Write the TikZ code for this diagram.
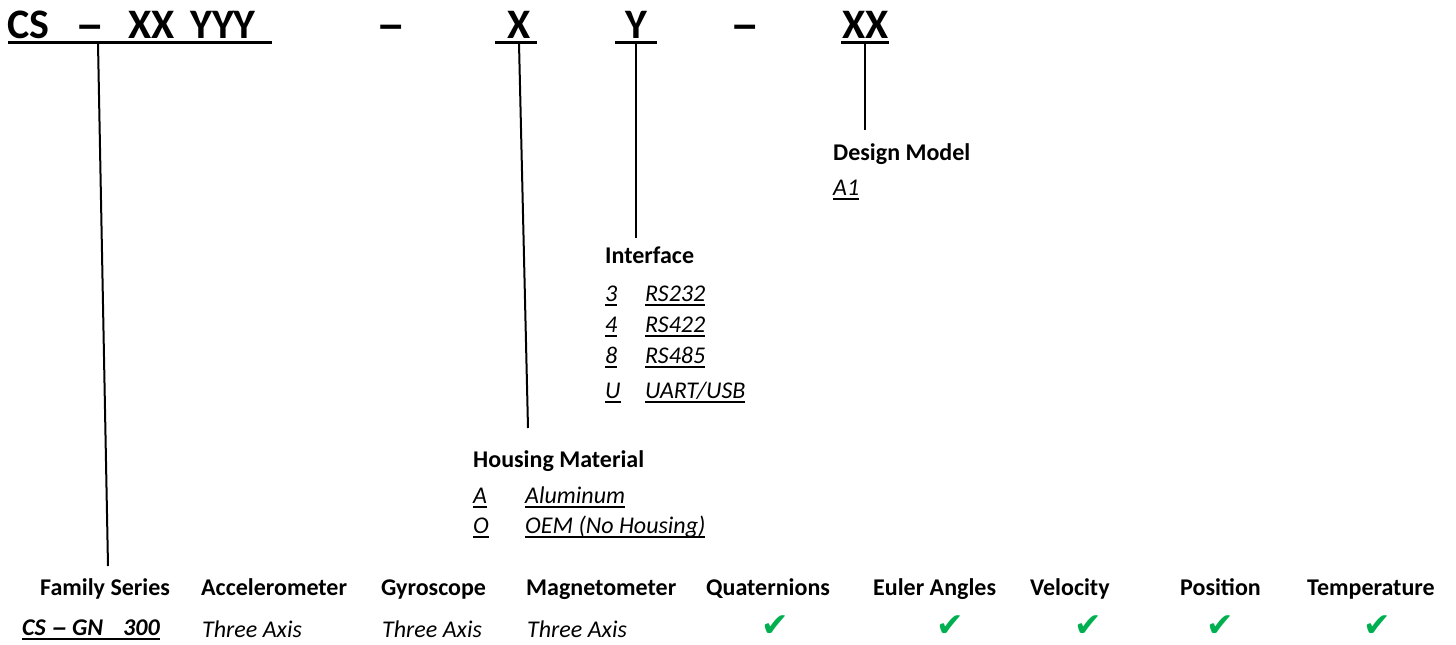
\documentclass[tikz,border=0pt]{standalone}
\usepackage{fontspec}
\setmainfont{Carlito}
\newfontfamily\djv{DejaVu Sans}
\newfontfamily\lib{Liberation Sans}
\definecolor{chkgreen}{RGB}{0,176,80}
\newcommand{\ulx}[1]{\setbox0\hbox{#1}\rlap{\rule[-5pt]{\wd0}{1.6pt}}\box0}
\newcommand{\wdash}{{\lib –}}
\tikzset{
  hdr/.style={anchor=base west,inner sep=0pt,font=\fontsize{42}{50}\selectfont\bfseries},
  lbl/.style={anchor=base west,inner sep=0pt,font=\fontsize{24}{28}\selectfont\bfseries},
  itm/.style={anchor=base west,inner sep=0pt,font=\fontsize{24}{28}\selectfont\itshape},
  chk/.style={anchor=center,inner sep=2pt,text=chkgreen,font=\djv\fontsize{33}{38}\selectfont},
  hline/.style={line width=3pt},
  conn/.style={line width=2pt}
}
\begin{document}
\begin{tikzpicture}[x=1pt,y=-1pt]
\useasboundingbox (0,0) rectangle (1456,645);
% header
\node[hdr] (cs) at (7,38) {CS};
\node[hdr] (d1) at (78,38) {\wdash};
\node[hdr] (xx) at (128,38) {XX};
\node[hdr] (yyy) at (190,38) {YYY};
\node[hdr] (d2) at (379,38) {\wdash};
\node[hdr] (hx) at (507,38) {X};
\node[hdr] (hy) at (625,38) {Y};
\node[hdr] (d3) at (733,38) {\wdash};
\node[hdr] (xx2) at (842,38) {XX};
\coordinate (u1a) at (8,42);  \coordinate (u1b) at (272,42);
\coordinate (u2a) at (495,42); \coordinate (u2b) at (537,42);
\coordinate (u3a) at (615,42); \coordinate (u3b) at (657,42);
\coordinate (u4a) at (841,42); \coordinate (u4b) at (889,42);
\draw[hline] (u1a) -- (u1b);
\draw[hline] (u2a) -- (u2b);
\draw[hline] (u3a) -- (u3b);
\draw[hline] (u4a) -- (u4b);
% connector ends
\coordinate (t1) at (98,43);  \coordinate (b1) at (108,566);
\coordinate (t2) at (519,43); \coordinate (b2) at (528,428);
\coordinate (t3) at (636,43); \coordinate (b3) at (636,238);
\coordinate (t4) at (865,43); \coordinate (b4) at (865,130);
\draw[conn] (t1) -- (b1);
\draw[conn] (t2) -- (b2);
\draw[conn] (t3) -- (b3);
\draw[conn] (t4) -- (b4);
% design model
\node[lbl] (dm) at (833,160) {Design Model};
\node[itm] (a1) at (833,195) {\ulx{A1}};
% interface
\node[lbl] (ifc) at (605,263) {Interface};
\node[itm] (i3) at (605,301) {\ulx{3}};
\node[itm] (v3) at (645,301) {\ulx{RS232}};
\node[itm] (i4) at (605,332) {\ulx{4}};
\node[itm] (v4) at (645,332) {\ulx{RS422}};
\node[itm] (i8) at (605,363) {\ulx{8}};
\node[itm] (v8) at (645,363) {\ulx{RS485}};
\node[itm] (iu) at (605,398) {\ulx{U}};
\node[itm] (vu) at (645,398) {\ulx{UART/USB}};
% housing
\node[lbl] (hm) at (473,467) {Housing Material};
\node[itm] (ha) at (473,503) {\ulx{A}};
\node[itm] (va) at (525,503) {\ulx{Aluminum}};
\node[itm] (ho) at (473,533) {\ulx{O}};
\node[itm] (vo) at (525,533) {\ulx{OEM (No Housing)}};
% bottom table
\node[lbl] (c1) at (40,595) {Family Series};
\node[lbl] (c2) at (201,595) {Accelerometer};
\node[lbl] (c3) at (381,595) {Gyroscope};
\node[lbl] (c4) at (526,595) {Magnetometer};
\node[lbl] (c5) at (706,595) {Quaternions};
\node[lbl] (c6) at (873,595) {Euler Angles};
\node[lbl] (c7) at (1030,595) {Velocity};
\node[lbl] (c8) at (1180,595) {Position};
\node[lbl] (c9) at (1307,595) {Temperature};
\node[itm,font=\fontsize{24}{28}\selectfont\bfseries\itshape] (r1) at (22,635) {\ulx{CS\hspace{7pt}\wdash\hspace{6pt}GN\hspace{20pt}300}};
\node[itm] (r2) at (202,637) {Three Axis};
\node[itm] (r3) at (382,637) {Three Axis};
\node[itm] (r4) at (527,637) {Three Axis};
\node[chk] (k5) at (775,626) {✔};
\node[chk] (k6) at (950,626) {✔};
\node[chk] (k7) at (1088,626) {✔};
\node[chk] (k8) at (1220,626) {✔};
\node[chk] (k9) at (1377,626) {✔};
\end{tikzpicture}
\end{document}
